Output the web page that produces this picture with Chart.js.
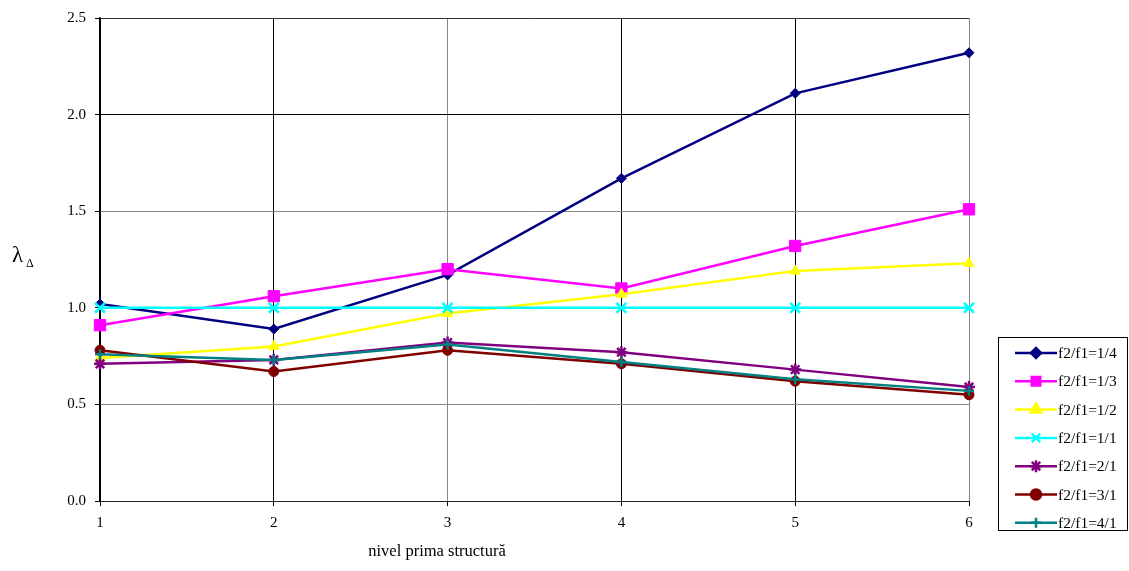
<!DOCTYPE html>
<html>
<head>
<meta charset="utf-8">
<script src="https://cdn.jsdelivr.net/npm/chart.js@4.4.1/dist/chart.umd.min.js"></script>
<style>
  body { margin: 0; background: #fff; }
  canvas { display: block; }
</style>
</head>
<body>
<canvas id="myChart" width="1129" height="571"></canvas>
<script>
// level of the first structure
const levels = [1, 2, 3, 4, 5, 6];

const seriesNames = ['f2/f1=1/4', 'f2/f1=1/3', 'f2/f1=1/2', 'f2/f1=1/1', 'f2/f1=2/1', 'f2/f1=3/1', 'f2/f1=4/1'];

const ratio14 = [1.02, 0.89, 1.17, 1.67, 2.11, 2.32];
const ratio13 = [0.91, 1.06, 1.20, 1.10, 1.32, 1.51];
const ratio12 = [0.74, 0.80, 0.97, 1.07, 1.19, 1.23];
const ratio11 = [1.00, 1.00, 1.00, 1.00, 1.00, 1.00];
const ratio21 = [0.71, 0.73, 0.82, 0.77, 0.68, 0.59];
const ratio31 = [0.78, 0.67, 0.78, 0.71, 0.62, 0.55];
const ratio41 = [0.76, 0.73, 0.81, 0.72, 0.63, 0.57];

const yMin = 0;
const yMax = 2.5;
const yStep = 0.5;

const xTitle = 'nivel prima structură';

const seriesData = [ratio14, ratio13, ratio12, ratio11, ratio21, ratio31, ratio41];
const colors = ['#000080', '#ff00ff', '#ffff00', '#00ffff', '#800080', '#800000', '#008080'];
const markers = ['rectRot', 'rect', 'triangle', 'crossRot', 'star', 'circle', 'cross'];
const markerSize = [5, 8, 6, 7, 6, 5, 5];

const serif = '"Liberation Serif", "Times New Roman", serif';

const datasets = seriesData.map((vals, i) => ({
    label: seriesNames[i],
    data: vals,
    borderColor: colors[i],
    backgroundColor: colors[i],
    borderWidth: 2.5,
    pointStyle: markers[i],
    pointRadius: markerSize[i],
    pointBorderWidth: (markers[i].startsWith('cross') || markers[i] === 'star') ? 2.5 : 1,
    pointBorderColor: colors[i],
    pointBackgroundColor: colors[i],
    tension: 0,
    order: seriesData.length - i
}));

// some gridlines come out darker, like the old spreadsheet
const xGridColors = ['#000', '#000', '#888', '#000', '#000', '#888'];
const yGridColors = ['#000', '#888', '#888', '#888', '#000', '#333'];

// legend box + axis titles drawn by hand
const extras = {
    id: 'extras',
    afterDraw(chart) {
        const ctx = chart.ctx;
        ctx.save();

        // y title: lambda with subscript delta
        ctx.fillStyle = '#000';
        ctx.textBaseline = 'alphabetic';
        ctx.textAlign = 'left';
        ctx.font = '23px ' + serif;
        ctx.fillText('λ', 12, 262);
        ctx.font = '12px ' + serif;
        ctx.fillText('Δ', 26, 267);

        // x title
        ctx.font = '16.5px ' + serif;
        ctx.textAlign = 'center';
        ctx.fillText(xTitle, 437, 556);

        // legend
        const bx = 998, by = 337, bw = 129, bh = 193;
        ctx.strokeStyle = '#000';
        ctx.lineWidth = 1;
        ctx.strokeRect(bx + 0.5, by + 0.5, bw, bh);

        ctx.font = '15.5px ' + serif;
        ctx.textAlign = 'left';
        ctx.textBaseline = 'middle';
        chart.data.datasets.forEach((ds, i) => {
            const y = 353 + i * 28.3;
            ctx.strokeStyle = ds.borderColor;
            ctx.lineWidth = 2.5;
            ctx.beginPath();
            ctx.moveTo(1015, y);
            ctx.lineTo(1057, y);
            ctx.stroke();
            ctx.fillStyle = ds.backgroundColor;
            Chart.helpers.drawPoint(ctx, {
                pointStyle: ds.pointStyle,
                radius: Math.min(ds.pointRadius, 6),
                rotation: 0,
                borderWidth: ds.pointBorderWidth
            }, 1036, y);
            ctx.fillStyle = '#000';
            ctx.fillText(ds.label, 1058, y + 1);
        });
        ctx.restore();
    }
};

new Chart(document.getElementById('myChart'), {
    type: 'line',
    data: { labels: levels, datasets: datasets },
    options: {
        responsive: false,
        animation: false,
        layout: { padding: { left: 0, right: 160, top: 18, bottom: 0 } },
        plugins: {
            legend: { display: false },
            tooltip: { enabled: false }
        },
        scales: {
            x: {
                offset: false,
                grid: {
                    offset: false,
                    color: ctx => xGridColors[ctx.index] || '#888',
                    tickColor: '#000',
                    tickLength: 5
                },
                border: { color: '#222', width: 1 },
                ticks: {
                    color: '#000',
                    padding: 8,
                    maxRotation: 0,
                    font: { family: serif, size: 15 }
                },
                afterFit: s => { s.height = 70; }
            },
            y: {
                min: yMin,
                max: yMax,
                grid: {
                    color: ctx => yGridColors[ctx.index] || '#888',
                    tickColor: '#000',
                    tickLength: 5
                },
                border: { color: '#000', width: 1.5 },
                ticks: {
                    stepSize: yStep,
                    color: '#000',
                    padding: 9,
                    font: { family: serif, size: 15 },
                    callback: v => Number(v).toFixed(1)
                },
                afterFit: s => { s.width = 100; }
            }
        }
    },
    plugins: [extras]
});
</script>
</body>
</html>
